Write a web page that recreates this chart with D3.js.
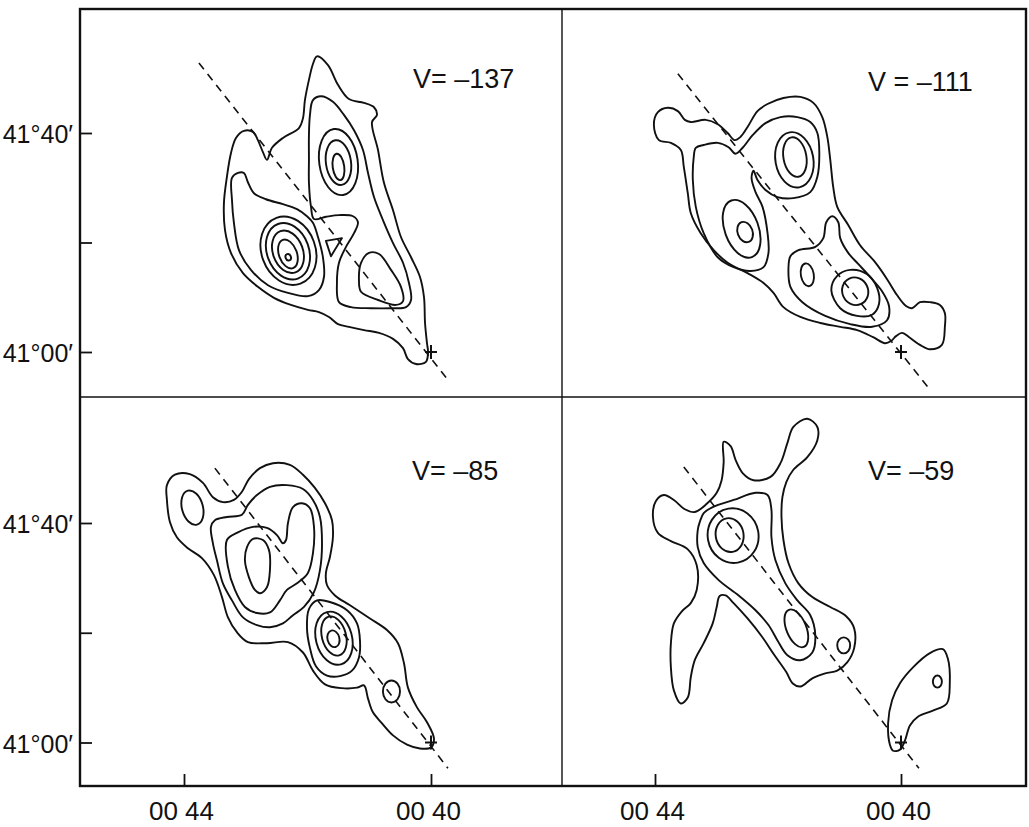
<!DOCTYPE html>
<meta charset="utf-8">
<script src="https://d3js.org/d3.v7.min.js"></script>
<style>
  body { margin: 0; background: #fff; }
  text { font-family: "Liberation Sans", Arial, sans-serif; fill: #111; }
</style>
<div id="chart"></div>
<script>
// ---- data: RA in seconds east of 00h40m, Dec in arcmin north of 41°00' ----
const panelNames = ["V= \u2013137", "V = \u2013111", "V= \u201385", "V= \u201359"];
const raTicks = [240, 0];
const raTickLabels = ["00 44", "00 40"];
const decTicks = [0, 20, 40];
const decTickLabels = ["41°00\u2032", "", "41°40\u2032"];

// V = -137
const contours137 = [
  [[110.8,54.0],[100.1,52.4],[90.4,48.8],[79.7,46.2],[65.1,45.5],[55.4,44.7],[52.5,43.3],[57.3,42.0],[51.5,36.9],[45.7,30.9],[36.9,25.9],[29.2,21.0],[19.4,17.3],[10.7,13.7],[6.8,10.0],[5.8,5.3],[3.9,1.6],[2.9,0],[4.9,-1.8],[14.6,-2.2],[22.4,-1.3],[27.2,0.7],[36.9,2.4],[50.5,3.5],[65.1,4.0],[79.7,4.6],[90.4,5.1],[99.1,6.4],[108.9,7.3],[119.6,7.7],[136.1,8.6],[152.6,9.9],[168.2,11.9],[182.7,14.4],[194.4,18.1],[200.2,22.3],[201.2,27.2],[198.3,32.0],[194.4,36.3],[189.5,39.1],[181.8,40.4],[173.0,40.2],[168.2,38.7],[163.3,36.5],[159.4,35.1],[154.5,37.3],[143.9,39.1],[128.3,40.9],[124.4,42.7],[122.5,46.0],[118.6,49.7],[114.7,52.6]],
  [[193.4,31.8],[187.6,32.7],[181.8,32.7],[177.9,31.0],[172.0,29.0],[160.4,27.9],[143.9,27.0],[130.2,26.1],[120.5,24.8],[114.7,23.6],[109.8,21.0],[105.0,17.3],[104.0,13.7],[108.9,11.3],[119.6,10.2],[139.0,10.8],[158.4,12.2],[175.0,15.0],[186.6,18.6],[191.5,23.6],[193.4,27.8]],
  [[114.7,46.0],[106.9,46.7],[95.3,45.7],[84.6,43.3],[74.8,40.5],[66.1,36.9],[61.2,32.7],[55.4,28.3],[46.7,24.1],[36.9,19.9],[27.2,16.3],[21.4,12.6],[19.4,9.5],[24.3,8.2],[38.9,8.0],[58.3,8.0],[77.8,8.2],[89.4,9.1],[91.4,12.6],[89.4,16.3],[82.6,19.2],[74.8,21.7],[71.0,23.7],[75.8,24.8],[89.4,25.0],[102.1,24.7],[113.7,24.3],[116.6,26.5],[118.6,30.9],[118.6,35.1],[118.6,39.6],[117.6,43.3]],
  [[70.0,13.1],[68.0,16.3],[60.3,18.1],[50.5,17.9],[38.9,15.0],[29.2,11.9],[27.2,9.3],[34.0,8.6],[51.5,9.5],[68.0,11.0]]
];
const sharp137 = [[[102.1,20.3],[86.5,20.8],[97.2,17.5]]];
const rings137 = [
  [89.9,33.8,5.6,2.43,-8],[89.9,34.6,12.2,4.11,-8],[89.9,34.7,18.7,6.08,-8],
  [138.7,17.3,2.6,0.6,-20],[139.0,17.9,8.7,2.74,-20],[139.0,18.3,14.6,4.0,-20],[139.0,18.4,20.4,5.3,-20],[138.5,18.5,26.2,6.4,-20]
];
const axis137 = [[225.5,52.8],[-16.5,-5.1]];

// V = -111
const contours111 = [
  [[241.1,41.5],[237.2,43.8],[227.4,44.6],[217.7,44.0],[210.9,42.4],[205.1,42.0],[190.5,42.4],[178.8,41.6],[169.1,40.0],[162.3,38.7],[156.5,39.3],[149.7,41.1],[140.0,44.0],[130.2,45.3],[114.7,46.4],[98.2,46.6],[85.5,45.5],[76.8,42.9],[71.9,39.3],[69.0,35.1],[66.1,30.1],[62.2,26.5],[51.5,23.2],[39.9,19.5],[25.3,16.4],[13.6,13.3],[3.9,10.4],[-4.9,8.4],[-10.7,8.0],[-18.5,9.1],[-28.2,9.1],[-37.9,8.6],[-42.8,7.1],[-42.8,4.6],[-39.9,1.3],[-28.2,0.5],[-18.5,1.3],[-8.7,2.6],[-1.0,3.5],[4.9,2.9],[9.7,2.0],[15.6,1.6],[27.2,2.7],[42.8,4.0],[59.3,4.6],[78.7,5.3],[98.2,6.4],[114.7,8.2],[124.4,10.8],[134.1,12.6],[149.7,14.4],[169.1,16.3],[182.7,18.6],[195.4,21.7],[205.1,25.4],[208.0,29.0],[211.9,33.8],[214.8,36.9],[224.5,38.2],[236.2,38.7]],
  [[202.2,35.6],[200.2,37.3],[192.5,37.8],[178.8,38.2],[168.2,37.4],[161.4,36.2],[154.5,37.3],[144.8,39.6],[132.2,41.8],[117.6,42.9],[101.1,42.9],[88.5,42.0],[81.6,40.0],[79.7,36.3],[81.6,32.0],[88.5,29.2],[105.0,28.1],[120.5,28.3],[132.2,29.6],[140.0,31.4],[143.9,33.1],[145.8,31.8],[141.9,29.2],[135.1,26.5],[130.2,21.7],[129.3,18.1],[134.1,15.5],[146.8,14.8],[163.3,15.5],[178.8,17.3],[192.5,21.7],[200.2,26.5],[203.1,31.4]],
  [[109.8,15.3],[107.9,17.5],[100.1,18.6],[83.6,19.2],[75.8,20.8],[72.9,23.7],[67.1,24.8],[61.2,23.7],[59.3,20.8],[51.5,18.1],[41.8,16.1],[30.1,13.7],[18.5,11.1],[11.7,8.4],[13.6,5.8],[28.2,4.6],[49.6,5.1],[73.9,6.6],[96.2,9.1],[107.9,11.9]],
  [[68.0,11.3],[62.2,13.9],[49.6,15.0],[33.0,14.2],[23.3,11.7],[21.4,8.8],[28.2,6.8],[42.8,6.6],[59.3,8.0]]
];
const rings111 = [
  [103.5,35.6,11.2,3.65,-10],[104.0,35.1,18.5,5.1,-10],
  [152.1,21.9,7.3,1.92,-20],[155.5,22.5,16.5,5.5,-20],
  [44.7,11.1,12.6,2.56,-25],[91.4,14.1,6.3,2.1,-10]
];
const axis111 = [[217.7,50.8],[-26.2,-6.4]];

// V = -85
const contours85 = [
  [[256.6,44.2],[256.6,46.9],[248.8,48.8],[234.3,48.9],[221.6,47.3],[211.9,44.7],[202.2,43.8],[191.5,44.2],[183.7,45.7],[176.9,48.0],[166.2,50.0],[153.6,50.9],[137.1,50.6],[124.4,48.8],[112.8,46.4],[103.0,43.6],[96.2,40.5],[95.3,37.4],[98.2,33.8],[102.1,30.9],[101.1,28.7],[93.3,26.8],[78.7,25.0],[59.3,22.6],[42.8,20.5],[32.1,18.1],[26.2,14.4],[22.4,10.0],[13.6,6.4],[3.9,3.7],[-2.9,0.7],[0,-0.9],[10.7,-1.1],[23.3,-0.4],[36.9,1.3],[47.6,3.5],[56.4,5.5],[61.2,8.0],[65.1,10.4],[71.9,10.0],[86.5,9.9],[103.0,10.6],[114.7,13.1],[124.4,16.4],[139.0,18.3],[159.4,18.1],[177.9,18.3],[188.6,20.1],[197.3,22.8],[203.1,26.5],[210.9,30.5],[222.6,33.6],[236.2,35.4],[246.9,37.4],[253.7,40.2]],
  [[213.8,39.3],[210.0,40.5],[198.3,41.1],[183.7,41.5],[177.9,43.3],[169.1,45.1],[156.5,46.6],[140.0,46.9],[124.4,46.2],[114.7,44.2],[107.9,41.1],[105.9,36.3],[107.9,31.4],[113.7,27.4],[123.4,24.7],[134.1,23.2],[143.9,21.7],[156.5,21.0],[169.1,21.4],[182.7,22.8],[193.4,25.9],[202.2,29.0],[208.0,33.2],[211.9,36.3]],
  [[198.3,36.9],[187.6,38.3],[173.0,39.3],[159.4,39.1],[149.7,37.8],[143.9,36.3],[140.9,36.9],[139.0,40.0],[134.1,42.9],[125.4,43.6],[117.6,42.7],[113.7,39.3],[114.7,34.5],[119.6,30.9],[130.2,29.0],[140.0,27.8],[146.8,25.9],[156.5,23.7],[169.1,23.6],[180.8,24.7],[190.5,27.8],[197.3,32.0]],
  [[178.8,35.6],[173.0,37.1],[163.3,36.9],[157.5,35.1],[156.5,31.4],[159.4,28.3],[166.2,27.2],[171.1,27.8],[176.9,30.1],[180.8,33.2]],
  [[118.6,24.3],[110.8,25.9],[98.2,25.6],[81.6,24.1],[71.9,21.7],[69.0,18.6],[70.0,15.5],[76.8,13.1],[88.5,12.1],[101.1,12.2],[111.8,13.9],[117.6,17.2],[120.5,20.8]]
];
const rings85 = [
  [231.8,42.8,10.2,3.2,-15],
  [94.8,18.9,5.8,1.55,-15],[94.3,19.4,11.7,3.65,-15],[94.3,19.0,17.5,4.93,-15],
  [38.4,9.3,8.3,2.0,0]
];
const axis85 = [[210.0,50.0],[-16.5,-4.7]];

// V = -59
const contours59 = [
  [[173.0,54.8],[166.2,54.0],[161.4,51.5],[154.5,49.1],[143.9,47.8],[127.3,48.4],[117.6,50.9],[110.8,54.6],[105.0,57.5],[91.4,59.0],[81.6,57.5],[81.6,55.1],[91.4,52.0],[105.0,49.7],[111.8,47.5],[115.7,44.7],[116.6,41.1],[114.7,36.9],[109.8,32.7],[100.1,29.0],[86.5,26.5],[69.0,24.7],[53.5,23.0],[45.7,20.8],[45.7,17.2],[52.5,14.6],[62.2,13.1],[73.9,12.6],[86.5,11.7],[98.2,10.2],[105.9,10.8],[111.8,12.8],[123.4,15.9],[136.1,19.4],[149.7,22.6],[163.3,25.4],[171.1,26.8],[176.9,26.7],[179.8,24.7],[183.7,21.7],[192.5,18.1],[201.2,15.0],[205.1,11.9],[208.0,8.2],[214.8,7.1],[221.6,9.5],[224.5,13.7],[224.5,18.1],[221.6,21.7],[213.8,23.9],[205.1,25.4],[199.3,27.8],[199.3,32.3],[208.0,35.2],[224.5,36.7],[237.2,38.2],[242.0,41.1],[239.1,44.0],[231.3,45.1],[221.6,44.2],[210.9,42.5],[201.2,42.0],[189.5,43.5],[179.8,45.5],[175.0,47.8],[173.0,51.1]],
  [[198.3,38.7],[196.3,40.2],[192.5,41.8],[183.7,42.9],[163.3,44.2],[141.9,45.5],[130.2,45.1],[126.4,42.4],[126.4,37.4],[122.5,33.2],[112.8,29.0],[101.1,25.9],[88.5,23.2],[83.6,19.5],[86.5,16.4],[98.2,15.0],[110.8,15.9],[120.5,18.6],[129.3,21.4],[141.9,24.1],[158.4,26.8],[177.9,29.6],[192.5,32.7],[198.3,35.6]],
  [[10.7,-0.5],[12.6,3.5],[8.7,7.7],[1.0,10.8],[-11.7,13.7],[-28.2,16.3],[-40.8,17.0],[-45.7,15.3],[-47.6,10.8],[-44.7,7.1],[-31.1,5.8],[-16.5,4.7],[-8.7,3.1],[-3.9,0.4],[1.0,-1.3],[7.8,-1.5]]
];
const rings59 = [
  [167.2,37.8,13.6,3.1,-10],[163.8,37.7,24.8,5.0,-10],
  [102.1,20.8,9.7,3.65,-22],[55.9,17.7,6.3,1.46,0],[-35.5,11.1,4.4,1.1,0]
];
const axis59 = [[211.9,50.2],[-17.5,-4.7]];

// ---- layout ----
const W = 1029, H = 827;
const frame = {left: 80, right: 1026, top: 9, bottom: 786, midX: 562, midY: 397};
const xCol = [
  d3.scaleLinear().domain([0, 240]).range([431, 184]),
  d3.scaleLinear().domain([0, 240]).range([901, 655])
];
const yRow = [
  d3.scaleLinear().domain([0, 40]).range([352, 133]),
  d3.scaleLinear().domain([0, 40]).range([742.5, 523])
];

const panels = [
  {name: panelNames[0], col: 0, row: 0, contours: contours137, sharp: sharp137, rings: rings137, axis: axis137, lx: 413, ly: 88},
  {name: panelNames[1], col: 1, row: 0, contours: contours111, sharp: [], rings: rings111, axis: axis111, lx: 868, ly: 91},
  {name: panelNames[2], col: 0, row: 1, contours: contours85, sharp: [], rings: rings85, axis: axis85, lx: 412, ly: 480},
  {name: panelNames[3], col: 1, row: 1, contours: contours59, sharp: [], rings: rings59, axis: axis59, lx: 868, ly: 480}
];

const svg = d3.select("#chart").append("svg")
  .attr("width", W).attr("height", H);
svg.append("rect").attr("width", W).attr("height", H).attr("fill", "#fff");

const smooth = d3.line().curve(d3.curveCatmullRomClosed.alpha(0.5));
const straight = d3.line().curve(d3.curveLinearClosed);
const ink = "#111";
const lw = 1.9;

panels.forEach(p => {
  const x = xCol[p.col], y = yRow[p.row];
  const g = svg.append("g");

  // major axis of the galaxy
  g.append("path")
    .attr("d", d3.line()(p.axis.map(d => [x(d[0]), y(d[1])])))
    .attr("stroke", ink).attr("stroke-width", 1.6)
    .attr("stroke-dasharray", "8,6").attr("fill", "none");

  g.selectAll("path.cont").data(p.contours).join("path")
    .attr("class", "cont")
    .attr("d", d => smooth(d.map(v => [x(v[0]), y(v[1])])))
    .attr("fill", "none").attr("stroke", ink).attr("stroke-width", lw);

  g.selectAll("path.sharp").data(p.sharp).join("path")
    .attr("class", "sharp")
    .attr("d", d => straight(d.map(v => [x(v[0]), y(v[1])])))
    .attr("fill", "none").attr("stroke", ink).attr("stroke-width", lw)
    .attr("stroke-linejoin", "round");

  g.selectAll("ellipse").data(p.rings).join("ellipse")
    .attr("cx", d => x(d[0])).attr("cy", d => y(d[1]))
    .attr("rx", d => Math.abs(x(d[0] + d[2]) - x(d[0])))
    .attr("ry", d => Math.abs(y(d[1] + d[3]) - y(d[1])))
    .attr("transform", d => `rotate(${d[4]},${x(d[0])},${y(d[1])})`)
    .attr("fill", "none").attr("stroke", ink).attr("stroke-width", lw);

  // nucleus marker
  const cx = x(0), cy = y(0);
  g.append("path")
    .attr("d", `M${cx - 6},${cy}H${cx + 6}M${cx},${cy - 7}V${cy + 7}`)
    .attr("stroke", ink).attr("stroke-width", 2);

  g.append("text")
    .attr("x", p.lx).attr("y", p.ly)
    .attr("font-size", 27)
    .text(p.name);

  // axes
  if (p.col === 0) {
    const ax = svg.append("g")
      .attr("transform", `translate(${frame.left},0)`)
      .call(d3.axisLeft(y).tickValues(decTicks).tickSize(-12).tickSizeOuter(0).tickPadding(7)
        .tickFormat(d => decTickLabels[decTicks.indexOf(d)]));
    ax.select(".domain").remove();
    ax.selectAll(".tick line").attr("stroke", ink).attr("stroke-width", 1.8);
    ax.selectAll(".tick text").attr("font-size", 25).attr("dy", "0.38em")
      .attr("fill", ink).attr("font-family", "Liberation Sans, Arial, sans-serif");
  }
  if (p.row === 1) {
    const ax = svg.append("g")
      .attr("transform", `translate(0,${frame.bottom})`)
      .call(d3.axisBottom(x).tickValues(raTicks).tickSize(-12).tickSizeOuter(0).tickPadding(16)
        .tickFormat(d => raTickLabels[raTicks.indexOf(d)]));
    ax.select(".domain").remove();
    ax.selectAll(".tick line").attr("stroke", ink).attr("stroke-width", 1.8);
    ax.selectAll(".tick text").attr("font-size", 26).attr("dx", "-3")
      .attr("fill", ink).attr("font-family", "Liberation Sans, Arial, sans-serif");
  }
});

// frame and panel dividers
svg.append("line").attr("x1", frame.midX).attr("x2", frame.midX)
  .attr("y1", frame.top).attr("y2", frame.bottom)
  .attr("stroke", ink).attr("stroke-width", 1.4);
svg.append("line").attr("x1", frame.left).attr("x2", frame.right)
  .attr("y1", frame.midY).attr("y2", frame.midY)
  .attr("stroke", ink).attr("stroke-width", 1.5);
svg.append("rect")
  .attr("x", frame.left).attr("y", frame.top)
  .attr("width", frame.right - frame.left).attr("height", frame.bottom - frame.top)
  .attr("fill", "none").attr("stroke", ink).attr("stroke-width", 2.4);
</script>
